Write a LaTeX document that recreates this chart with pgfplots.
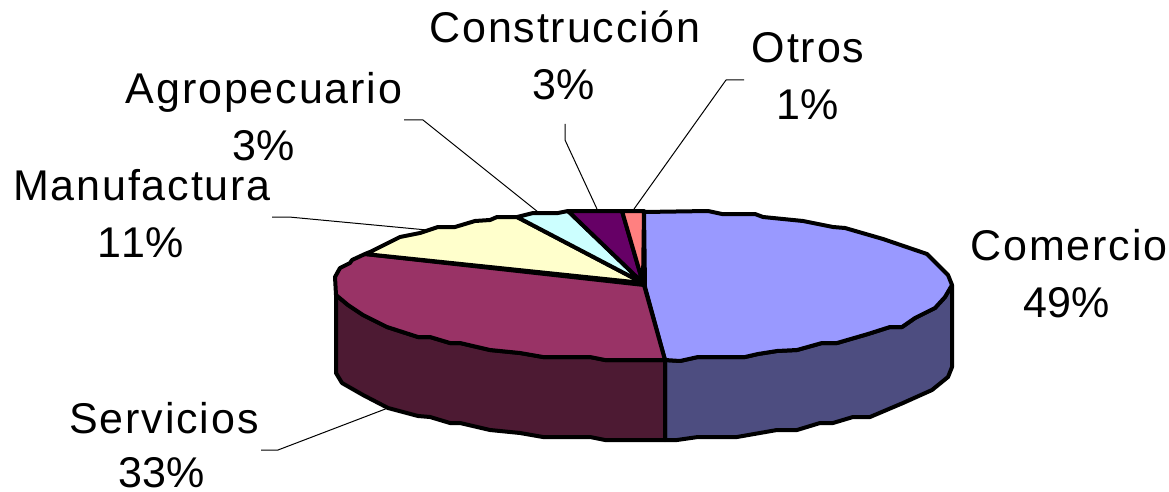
\documentclass[border=0pt]{standalone}
\usepackage{fontspec}
\setmainfont[LetterSpace=4.3]{Liberation Sans}
\newfontfamily\pct[Kerning=Off]{Liberation Sans}
\usepackage{pgfplots}
\pgfplotsset{compat=1.18}
\definecolor{sidea}{HTML}{4D4D80}
\definecolor{sideb}{HTML}{4D1A33}
\definecolor{cCom}{HTML}{9999FF}
\definecolor{cSer}{HTML}{993366}
\definecolor{cMan}{HTML}{FFFFCC}
\definecolor{cAgr}{HTML}{CCFFFF}
\definecolor{cCon}{HTML}{660066}
\definecolor{cOtr}{HTML}{FF8080}
\tikzset{
  lab/.style={font=\fontsize{43}{50}\selectfont, anchor=base, inner sep=0pt, text=black},
  pc/.style={font=\fontsize{43}{50}\selectfont\pct, anchor=base, inner sep=0pt, text=black},
  lead/.style={draw=black, line width=1pt, line cap=butt},
  face/.style={draw=black, line width=4pt},
}
\begin{document}
\begin{tikzpicture}
\useasboundingbox (0,0) rectangle (1169pt,492pt);
\begin{axis}[
  anchor=south west, at={(0,0)},
  width=1169pt, height=492pt, scale only axis,
  xmin=0, xmax=1169, ymin=0, ymax=492, y dir=reverse,
  hide axis, clip=false, no markers,
  every axis plot/.append style={line join=round, line cap=round},
]
% leader lines
\addplot[lead] coordinates {(261,450) (278,450) (388,408)};
\addplot[lead] coordinates {(272,217) (289,217) (427,230)};
\addplot[lead] coordinates {(404,120) (423,120) (538,212)};
\addplot[lead] coordinates {(565,124) (565,140) (597,209)};
\addplot[lead] coordinates {(744,80) (726,80) (634,209)};
% side faces
\addplot[face, fill=sidea] coordinates {
 (952,285) (945,297) (935,308) (915,318) (902,327) (890,327) (868,334) (837,343) (822,343)
 (797,350) (777,351) (758,354) (745,357) (698,357) (680,361) (665,360)
 (665,440) (677,440) (698,437) (737,437) (777,430) (797,430) (820,423) (833,423) (853,417)
 (870,417) (903,403) (932,390) (948,377) (952,367)} --cycle;
\addplot[face, fill=sideb] coordinates {
 (665,360) (605,360) (590,357) (543,357) (520,353) (490,350) (460,343) (450,343) (430,337)
 (418,337) (387,327) (363,315) (348,305) (336,295)
 (336,373) (342,383) (363,395) (388,408) (418,416) (430,417) (450,423) (460,423) (490,430)
 (520,433) (543,437) (590,437) (605,440) (665,440)} --cycle;
% top faces
\addplot[face, fill=cCom] coordinates {
 (644,212) (708,211) (722,214) (755,214) (763,217) (803,221) (833,227) (845,228) (883,239)
 (927,254) (948,275) (952,285) (945,297) (935,308) (915,318) (902,327) (890,327) (868,334)
 (837,343) (822,343) (797,350) (777,351) (758,354) (745,357) (698,357) (680,361) (665,360)
 (645,287)} --cycle;
\addplot[face, fill=cSer] coordinates {
 (644,285) (665,360) (605,360) (590,357) (543,357) (520,353) (490,350) (460,343) (450,343)
 (430,337) (418,337) (387,327) (363,315) (348,305) (336,295) (335,277) (340,268) (350,263)
 (352,260) (365,254)} --cycle;
\addplot[face, fill=cMan] coordinates {
 (643,283) (365,254) (370,252) (400,237) (420,233) (438,227) (455,227) (475,221) (490,220)
 (497,217) (517,217)} --cycle;
\addplot[face, fill=cAgr] coordinates {
 (643,283) (517,217) (533,213) (558,213) (568,211)} --cycle;
\addplot[face, fill=cCon] coordinates {
 (643,283) (568,211) (622,211)} --cycle;
\addplot[face, fill=cOtr] coordinates {
 (643,283) (622,211) (644,211)} --cycle;
% labels
\node[lab] at (axis cs:1069,260) {Comercio};
\node[pc]  at (axis cs:1067,317) {49\%};
\node[lab] at (axis cs:565,43) {Construcción};
\node[pc]  at (axis cs:564,100) {3\%};
\node[lab] at (axis cs:808,63) {Otros};
\node[pc]  at (axis cs:808,120) {1\%};
\node[lab] at (axis cs:264,103) {Agropecuario};
\node[pc]  at (axis cs:264,160) {3\%};
\node[lab] at (axis cs:142,200) {Manufactura};
\node[pc]  at (axis cs:141,257) {11\%};
\node[lab] at (axis cs:164,433) {Servicios};
\node[pc]  at (axis cs:162,487) {33\%};
\end{axis}
\end{tikzpicture}
\end{document}
